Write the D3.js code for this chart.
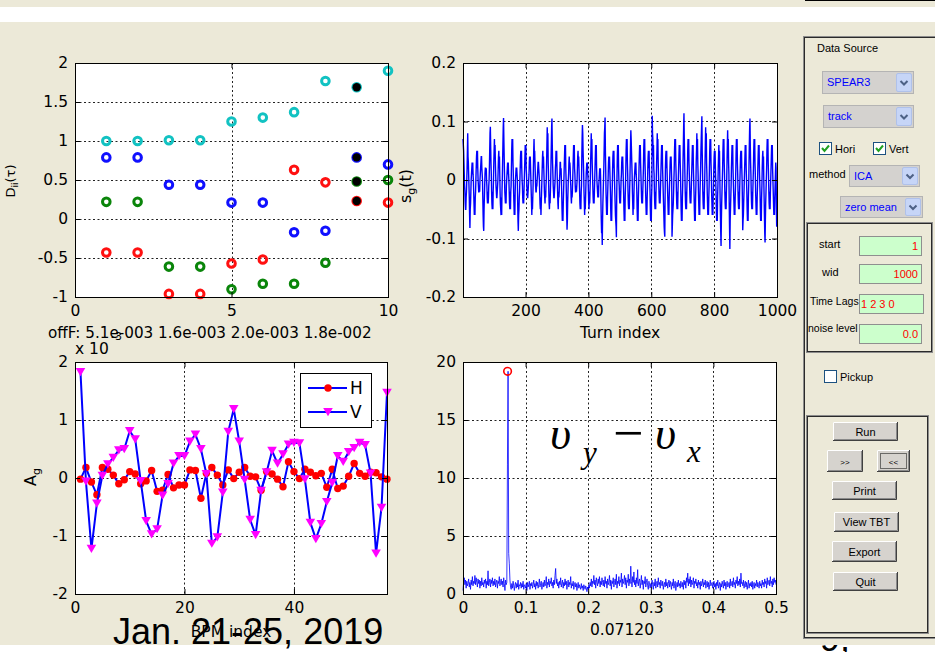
<!DOCTYPE html>
<html><head><meta charset="utf-8">
<script src="https://cdn.jsdelivr.net/npm/d3@7"></script>
<style>
body{margin:0;background:#fff;}
svg{display:block;}
</style></head><body>
<svg id="fig" width="935" height="652"></svg>
<script>
// ---------------- data ----------------
// Top left: diagonal elements D_ii(tau) of the time-lagged covariance, per lag column
const lagIndex   = [1,2,3,4,5,6,7,8,9,10];
const diagCyan   = [1.00,1.00,1.01,1.01,1.25,1.30,1.37,1.77,1.69,1.90];
const diagBlue   = [0.79,0.79,0.44,0.44,0.21,0.21,-0.17,-0.15,0.79,0.70];
const diagGreen  = [0.22,0.22,-0.61,-0.61,-0.90,-0.83,-0.83,-0.56,0.48,0.50];
const diagRed    = [-0.43,-0.43,-0.96,-0.96,-0.57,-0.52,0.63,0.47,0.23,0.21];
const selectedLag = 9;
const offFText = "offF: 5.1e-003 1.6e-003 2.0e-003 1.8e-002";

// Top right: temporal source signal s_g(t), turns 1..1000 (28 turns per row)
const sourceSignal = [
.07,.06,.05,.03,.01,-.01,-.02,-.04,-.05,-.05,-.03,-.02,.00,.02,.05,.08,.04,.03,.01,-.01,-.03,-.06,-.082,-.05,-.04,-.02,.00,.01,
.02,.03,.01,.03,.01,.00,-.02,-.04,-.06,-.03,-.06,-.03,-.02,.00,.02,.04,.05,.02,.05,.02,.00,-.01,-.02,-.02,-.01,-.02,.00,.01,
.02,.03,.04,.04,.02,.01,.00,-.03,-.06,-.08,-.087,-.05,-.03,-.01,.01,.02,.02,.01,.02,.00,-.01,-.03,-.04,-.02,-.04,-.03,-.01,.00,
.02,.05,.08,.091,.06,.03,.01,-.02,-.04,-.05,-.02,-.05,-.02,.00,.03,.05,.07,.04,.06,.03,.01,-.01,-.02,-.03,-.03,-.02,-.01,.00,
.02,.04,.05,.02,.04,.01,-.02,-.04,-.05,-.06,-.03,-.06,-.02,.00,.03,.06,.09,.106,.07,.04,.01,-.02,-.03,-.04,-.02,-.04,-.01,.00,
.01,.02,.03,.01,.03,.01,.00,-.02,-.04,-.05,-.02,-.05,-.02,-.01,.02,.05,.07,.04,.07,.03,.01,-.02,-.04,-.06,-.03,-.06,-.02,.00,
.01,.02,.02,.02,.01,.00,-.04,-.07,-.087,-.06,-.05,-.03,-.02,.00,.02,.04,.05,.02,.05,.02,.00,-.01,-.03,-.04,-.02,-.04,-.02,.00,
.02,.04,.06,.03,.06,.02,.01,-.01,-.02,-.03,-.03,-.02,-.01,.00,.01,.03,.04,.02,.04,.02,.00,-.02,-.04,-.06,-.03,-.05,-.03,-.01,
.02,.05,.07,.04,.05,.03,.01,-.01,-.02,-.02,-.01,-.01,.00,.01,.02,.03,.03,.02,.01,.00,-.02,-.04,-.05,-.03,-.06,-.04,-.02,.00,
.02,.04,.05,.02,.04,.02,.00,-.02,-.03,-.04,-.02,-.03,-.01,.00,.03,.06,.09,.05,.08,.03,.01,-.02,-.04,-.05,-.03,-.04,-.02,.00,
.03,.06,.09,.105,.06,.03,.01,-.01,-.02,-.03,-.03,-.02,-.01,.00,.02,.03,.05,.03,.05,.02,.00,-.02,-.04,-.05,-.02,-.03,-.02,.00,
.01,.03,.03,.01,.02,.00,-.02,-.05,-.07,-.04,-.07,-.04,-.02,.00,.02,.04,.06,.03,.06,.02,.00,-.03,-.06,-.085,-.07,-.04,-.02,.00,
.01,.03,.04,.02,.03,.02,.00,-.01,-.03,-.04,-.02,-.03,-.02,.00,.02,.04,.06,.03,.06,.02,.01,-.01,-.02,-.02,-.01,-.02,-.01,.00,
.02,.04,.05,.03,.04,.02,.00,-.02,-.04,-.05,-.03,-.05,-.02,-.01,.04,.07,.094,.08,.05,.03,.01,-.02,-.04,-.06,-.03,-.05,-.03,-.01,
.01,.02,.03,.01,.03,.01,.00,-.02,-.04,-.05,-.02,-.04,-.02,.00,.03,.05,.08,.04,.07,.03,.01,-.01,-.03,-.04,-.02,-.04,-.02,.00,
.02,.04,.06,.03,.06,.02,.00,-.01,-.02,-.03,-.01,-.03,-.01,.00,.01,.02,.01,.02,.00,-.04,-.07,-.091,-.08,-.111,-.07,-.04,-.02,.00,
.02,.05,.08,.09,.107,.05,.02,-.02,-.04,-.06,-.03,-.06,-.03,-.01,.01,.03,.04,.02,.04,.02,.00,-.02,-.05,-.07,-.04,-.07,-.03,-.01,
.02,.04,.05,.02,.05,.02,.00,-.02,-.04,-.06,-.07,-.08,-.098,-.03,.01,.04,.06,.03,.06,.02,.00,-.01,-.03,-.04,-.02,-.04,-.02,.00,
.01,.03,.04,.02,.04,.02,.00,-.02,-.05,-.07,-.04,-.07,-.03,-.01,.02,.05,.07,.04,.07,.03,.01,-.02,-.04,-.05,-.03,-.05,-.02,.00,
.03,.06,.085,.07,.05,.03,.01,-.02,-.04,-.06,-.03,-.05,-.02,.00,.01,.02,.03,.01,.03,.01,.00,-.02,-.05,-.07,-.04,-.07,-.03,-.01,
.02,.04,.06,.03,.06,.03,.01,-.01,-.03,-.04,-.02,-.04,-.02,.00,.02,.05,.07,.04,.07,.03,.01,-.02,-.04,-.06,-.03,-.06,-.03,-.01,
.02,.04,.05,.02,.05,.02,.00,-.02,-.05,-.07,-.04,-.07,-.03,-.01,.11,.08,.07,.04,.06,.02,.01,-.02,-.04,-.05,-.02,-.05,-.02,.00,
.03,.05,.08,.04,.07,.03,.01,-.01,-.03,-.04,-.02,-.04,-.02,.00,.02,.04,.06,.03,.06,.02,.00,-.02,-.04,-.06,-.08,-.09,-.097,-.03,
.02,.04,.05,.02,.05,.02,.00,-.02,-.04,-.06,-.03,-.06,-.03,-.01,.01,.03,.04,.02,.04,.02,.00,-.097,-.08,-.06,-.05,-.04,-.02,.00,
.02,.05,.07,.04,.07,.03,.01,-.02,-.04,-.05,-.02,-.05,-.02,.00,.02,.04,.06,.03,.06,.03,.01,-.02,-.05,-.07,-.04,-.07,-.03,-.01,
.03,.06,.09,.114,.07,.04,.01,-.02,-.04,-.05,-.02,-.05,-.02,.00,.02,.05,.07,.04,.07,.03,.01,-.01,-.03,-.04,-.02,-.04,-.02,.00,
.02,.04,.06,.03,.06,.02,.00,-.02,-.05,-.07,-.04,-.07,-.03,-.01,.03,.05,.08,.04,.07,.03,.01,-.02,-.04,-.06,-.03,-.06,-.02,.00,
.02,.05,.07,.09,.109,.05,.02,-.02,-.04,-.05,-.02,-.05,-.02,.00,.03,.06,.09,.05,.08,.03,.01,-.02,-.04,-.06,-.03,-.06,-.03,-.01,
.02,.05,.07,.04,.07,.03,.01,-.02,-.04,-.06,-.03,-.06,-.03,-.01,.02,.04,.05,.02,.05,.02,.00,-.02,-.05,-.07,-.04,-.07,-.03,-.01,
.02,.04,.06,.03,.05,.01,-.03,-.06,-.09,-.113,-.07,-.04,-.02,.00,.02,.05,.07,.04,.07,.03,.01,-.02,-.04,-.05,-.02,-.05,-.02,.00,
.03,.06,.085,.05,.07,.03,.01,-.04,-.08,-.118,-.07,-.05,-.03,-.01,.02,.04,.06,.03,.06,.02,.00,-.02,-.04,-.06,-.03,-.06,-.03,-.01,
.02,.05,.07,.04,.07,.03,.01,-.02,-.04,-.05,-.02,-.05,-.02,.00,.02,.04,.05,.02,.05,.02,.00,-.04,-.086,-.07,-.06,-.04,-.02,.00,
.02,.04,.06,.03,.06,.02,.00,-.02,-.05,-.07,-.04,-.07,-.03,-.01,.03,.06,.09,.105,.06,.03,.01,-.02,-.04,-.05,-.02,-.05,-.02,.00,
.02,.05,.07,.04,.07,.03,.01,-.02,-.04,-.06,-.03,-.06,-.03,-.01,.02,.04,.06,.03,.06,.02,.00,-.02,-.05,-.07,-.04,-.07,-.03,-.01,
.02,.04,.05,.02,.04,.00,-.03,-.06,-.09,-.107,-.07,-.04,-.02,.00,.02,.05,.07,.04,.07,.03,.01,-.02,-.04,-.05,-.02,-.05,-.02,.00,
.02,.04,.06,.03,.06,.02,.00,-.02,-.04,-.06,-.03,-.06,-.03,-.01,.01,.03,.02,-.04,-.08,-.05
];

// Bottom left: spatial pattern A_g at each BPM (units of 1e-3)
const bpmH = [-0.02,0.18,-0.07,-0.29,0.18,0.15,0.05,-0.10,-0.03,0.11,0.07,-0.10,-0.05,0.13,-0.23,-0.21,0.06,-0.17,-0.12,-0.12,
  0.14,0.13,-0.35,0.08,0.18,0.05,-0.12,0.14,-0.01,0.10,0.18,0.03,0.02,-0.21,0.11,0.07,-0.02,-0.15,0.28,0.11,
  -0.01,0.15,0.10,0.04,0.08,-0.16,0.15,-0.18,-0.14,0.03,0.25,0.08,0.03,0.10,0.09,0.02,-0.02];
const bpmV = [1.83,-0.06,-1.22,-0.44,0.04,0.24,0.35,0.48,0.50,0.81,0.67,-0.05,-0.74,-0.97,-0.88,-0.30,-0.10,0.25,0.38,0.38,
  0.63,0.75,0.50,0.07,-1.13,-1.02,-0.25,0.80,1.19,0.63,-0.03,-0.72,-0.98,-0.22,0.10,0.47,0.25,0.41,0.58,0.61,
  0.60,-0.02,-0.77,-1.05,-0.79,-0.41,-0.08,0.38,0.28,0.45,0.52,0.61,0.57,0.08,-1.30,-0.51,1.47];

// Bottom right: amplitude spectrum of s_g(t), bins 0, 0.001, ... 0.5
const spectrumAmp = [
0.3,1.0,1.4,0.8,1.2,0.5,1.1,0.7,0.9,1.3,0.6,1.0,0.4,1.2,0.8,1.5,0.7,1.1,0.9,1.6,0.8,1.4,1.0,0.6,1.3,
0.9,1.2,0.5,1.1,0.7,1.4,0.8,1.0,0.6,1.2,0.9,1.3,0.5,1.1,0.8,2.0,0.7,1.0,1.3,0.6,1.2,0.9,1.4,0.7,1.1,
0.8,1.3,0.6,1.0,1.2,0.5,1.1,0.9,1.5,0.7,1.0,1.3,0.8,1.1,0.6,1.4,0.9,0.3,1.2,0.8,1.0,11.2,19.2,3.5,2.6,
1.2,0.6,0.4,0.9,0.5,1.1,0.7,0.3,0.8,1.0,0.5,0.9,0.6,1.2,0.4,0.8,0.7,1.0,0.5,0.9,0.6,1.1,0.4,0.8,0.7,
0.5,0.9,0.3,1.0,0.6,0.8,1.1,0.4,0.9,0.7,1.0,0.5,0.8,1.2,0.6,0.9,0.4,1.1,0.7,1.0,0.5,0.8,1.3,0.6,0.9,
1.1,0.4,0.8,1.0,0.6,1.2,0.7,0.9,1.5,0.5,1.0,0.8,1.3,0.6,1.1,0.9,1.4,0.7,1.0,0.5,1.2,0.8,1.6,2.2,0.9,
1.3,0.7,1.0,0.5,1.1,0.8,1.4,0.6,0.9,1.2,0.5,1.0,0.7,1.3,0.8,1.1,0.4,0.9,1.2,0.6,1.0,0.8,1.5,0.5,0.9,
0.7,1.1,0.4,0.8,1.0,0.6,0.9,0.3,0.7,1.0,0.5,0.8,0.6,0.4,0.9,0.5,0.7,0.3,0.8,0.6,0.4,0.7,0.5,0.2,0.6,
0.4,0.8,0.5,1.0,0.7,1.3,0.6,1.1,0.9,1.6,0.8,1.2,0.5,1.4,1.0,0.7,1.3,0.9,1.5,0.6,1.1,0.8,1.4,1.0,0.7,
1.2,0.6,1.5,0.9,1.1,0.5,1.3,0.8,1.0,1.6,0.7,1.2,0.4,1.1,0.9,1.4,0.6,1.0,1.3,0.8,1.7,0.5,1.1,0.9,1.5,
0.7,1.2,1.0,1.8,0.6,1.3,0.9,1.1,1.6,0.8,1.4,0.5,1.2,1.0,1.7,0.7,1.3,0.9,2.4,1.1,0.6,1.5,1.0,1.9,0.8,
1.2,0.6,1.4,0.9,2.1,0.7,1.1,1.3,0.5,1.0,1.6,0.8,1.2,0.4,1.1,0.9,1.5,0.6,1.0,1.3,0.7,0.4,1.1,0.8,0.5,
0.9,0.6,1.2,0.8,0.4,1.0,0.7,1.3,0.5,0.9,1.1,0.6,1.4,0.8,1.0,0.5,1.2,0.9,0.7,1.1,0.4,0.8,1.0,0.6,1.3,
0.7,1.0,0.5,0.9,1.2,0.6,1.1,0.8,0.4,1.0,0.7,1.3,0.5,0.9,1.1,0.3,0.8,1.0,0.6,1.2,0.7,0.9,0.5,1.1,0.8,
0.6,1.0,0.4,1.2,0.8,1.1,0.5,1.4,1.0,1.8,0.7,1.3,0.9,1.5,0.6,1.2,0.8,1.0,1.4,0.5,1.1,0.9,1.3,0.7,1.0,
0.5,1.2,0.8,1.0,0.4,1.1,0.7,0.9,1.3,0.6,1.0,0.8,1.2,0.5,0.9,1.1,0.6,1.0,0.4,0.8,1.2,0.7,0.9,1.0,0.5,
0.8,1.1,0.6,0.9,0.4,1.0,0.7,1.2,0.5,0.8,1.0,0.3,0.9,0.6,1.1,0.8,0.5,1.2,0.7,1.0,0.4,0.9,1.1,0.6,0.8,
1.0,0.5,1.3,0.7,0.9,1.1,0.6,1.4,0.8,1.0,0.5,1.2,0.9,1.5,0.7,1.1,0.8,1.3,0.6,1.8,0.9,1.0,0.7,1.2,0.5,
0.9,1.1,0.6,1.0,0.4,0.8,1.2,0.5,0.9,0.7,1.0,0.6,1.1,0.4,0.8,1.0,0.5,0.9,0.7,1.2,0.6,1.0,0.8,0.5,1.1,
0.7,0.9,0.5,1.2,0.8,1.0,0.6,1.3,0.9,1.1,0.5,1.4,0.8,1.0,1.2,0.7,1.5,0.9,1.1,0.6,1.3,0.8,1.4,1.0,1.2,
0.8
];
const tunePeak = {freq: 0.0712, amp: 19.2, label: "0.07120"};

// tick values
const tlXTicks = [0,5,10],  tlYTicks = [-1,-0.5,0,0.5,1,1.5,2];
const trXTicks = [200,400,600,800,1000], trYTicks = [-0.2,-0.1,0,0.1,0.2];
const blXTicks = [0,20,40], blYTicks = [-2,-1,0,1,2];
const brXTicks = [0,0.1,0.2,0.3,0.4,0.5], brYTicks = [0,5,10,15,20];

// ---------------- drawing ----------------
const BG = "#ECE9D8";
const FONT = '"DejaVu Sans", Verdana, sans-serif';
const UI = '"Liberation Sans", Arial, sans-serif';
const svg = d3.select("#fig");
const defs = svg.append("defs");

svg.append("rect").attr("width",935).attr("height",652).attr("fill","#fff");
// slide page number, mostly hidden by the GUI capture
svg.append("text").attr("x",820).attr("y",651).attr("font-family",UI).attr("font-size",36).text("9,");
svg.append("rect").attr("x",0).attr("y",0).attr("width",935).attr("height",7).attr("fill",BG);
svg.append("line").attr("x1",805).attr("x2",935).attr("y1",0.5).attr("y2",0.5).attr("stroke","#000");
svg.append("rect").attr("x",0).attr("y",22).attr("width",935).attr("height",623).attr("fill",BG);

function makeAxes(c){
  const x = d3.scaleLinear().domain(c.xd).range([c.l,c.r]);
  const y = d3.scaleLinear().domain(c.yd).range([c.b,c.t]);
  const g = svg.append("g");
  g.append("rect").attr("x",c.l).attr("y",c.t).attr("width",c.r-c.l).attr("height",c.b-c.t).attr("fill","#fff");
  const grid = g.append("g").attr("stroke","#222").attr("stroke-width",1).attr("stroke-dasharray","2,2.5");
  grid.selectAll(null).data(c.xt.filter(v=>v>c.xd[0]&&v<c.xd[1])).join("line")
    .attr("x1",d=>Math.round(x(d))+0.5).attr("x2",d=>Math.round(x(d))+0.5).attr("y1",c.t).attr("y2",c.b);
  grid.selectAll(null).data(c.yt.filter(v=>v>c.yd[0]&&v<c.yd[1])).join("line")
    .attr("y1",d=>Math.round(y(d))+0.5).attr("y2",d=>Math.round(y(d))+0.5).attr("x1",c.l).attr("x2",c.r);
  defs.append("clipPath").attr("id","clip-"+c.name).append("rect")
    .attr("x",c.l-6).attr("y",c.t-6).attr("width",c.r-c.l+12).attr("height",c.b-c.t+12);
  const plot = svg.append("g").attr("clip-path",`url(#clip-${c.name})`);
  return {x,y,plot,c};
}
function finishAxes(ax){
  const {x,y,c} = ax;
  const g = svg.append("g");
  const fmt = d => String(d);
  g.append("g").attr("transform",`translate(0,${c.b})`)
    .call(d3.axisBottom(x).tickValues(c.xt).tickSize(-5).tickSizeOuter(0).tickPadding(8).tickFormat(fmt));
  g.append("g").attr("transform",`translate(0,${c.t})`)
    .call(d3.axisTop(x).tickValues(c.xt).tickSize(-5).tickSizeOuter(0).tickFormat(""));
  g.append("g").attr("transform",`translate(${c.l},0)`)
    .call(d3.axisLeft(y).tickValues(c.yt).tickSize(-5).tickSizeOuter(0).tickPadding(7).tickFormat(fmt));
  g.append("g").attr("transform",`translate(${c.r},0)`)
    .call(d3.axisRight(y).tickValues(c.yt).tickSize(-5).tickSizeOuter(0).tickFormat(""));
  g.selectAll(".domain").remove();
  g.selectAll("text").attr("font-family",FONT).attr("font-size",15.5).attr("fill","#000");
  g.selectAll(".tick line").attr("stroke","#000");
  g.append("rect").attr("x",c.l+0.5).attr("y",c.t+0.5).attr("width",c.r-c.l).attr("height",c.b-c.t)
    .attr("fill","none").attr("stroke","#000");
}
function label(x,y,txt,opt={}){
  return svg.append("text").attr("x",x).attr("y",y).attr("font-family",opt.font||FONT)
    .attr("font-size",opt.size||15.5).attr("text-anchor",opt.anchor||"middle").attr("fill",opt.fill||"#000").text(txt);
}

// ---- top left: D_ii(tau)
const tl = makeAxes({name:"tl",l:75,r:388,t:63,b:297,xd:[0,10],yd:[-1,2],xt:tlXTicks,yt:tlYTicks});
const diagSeries = [
  {vals:diagCyan,color:"#12c2c2"},{vals:diagBlue,color:"#1010ff"},
  {vals:diagGreen,color:"#0a850a"},{vals:diagRed,color:"#ff1010"}];
diagSeries.forEach(s=>{
  tl.plot.selectAll(null).data(lagIndex.map((k,i)=>({k,v:s.vals[i]}))).join("circle")
    .attr("cx",d=>tl.x(d.k)).attr("cy",d=>tl.y(d.v)).attr("r",3.8)
    .attr("fill","none").attr("stroke",s.color).attr("stroke-width",3);
  const i = lagIndex.indexOf(selectedLag);
  tl.plot.append("circle").attr("cx",tl.x(selectedLag)).attr("cy",tl.y(s.vals[i])).attr("r",4.2)
    .attr("fill","#000");
});
finishAxes(tl);
svg.append("text").attr("transform","translate(15,181) rotate(-90)").attr("text-anchor","middle")
  .attr("font-family",FONT).attr("font-size",13)
  .call(t=>{t.append("tspan").text("D");t.append("tspan").attr("font-size",9).attr("dy",3).text("ii");
            t.append("tspan").attr("dy",-3).text("(τ)");});
label(48,338,offFText,{anchor:"start",size:15.2});

// ---- top right: s_g(t)
const tr = makeAxes({name:"tr",l:463,r:777,t:63,b:297,xd:[1,1000],yd:[-0.2,0.2],xt:trXTicks,yt:trYTicks});
tr.plot.append("path").datum(sourceSignal)
  .attr("d",d3.line().x((d,i)=>tr.x(i+1)).y(d=>tr.y(d)))
  .attr("fill","none").attr("stroke","#0000ff").attr("stroke-width",1.4);
finishAxes(tr);
label(620,338,"Turn index");
svg.append("text").attr("transform","translate(411,186) rotate(-90)").attr("text-anchor","middle")
  .attr("font-family",FONT).attr("font-size",16)
  .call(t=>{t.append("tspan").text("s");t.append("tspan").attr("font-size",11).attr("dy",4).text("g");
            t.append("tspan").attr("dy",-4).text("(t)");});

// ---- bottom left: A_g per BPM
const bl = makeAxes({name:"bl",l:75,r:387,t:362,b:594,xd:[0,57],yd:[-2,2],xt:blXTicks,yt:blYTicks});
const bpmLine = (arr)=>d3.line().x((d,i)=>bl.x(i+1)).y(d=>bl.y(d))(arr);
const triDown = "M-4.8,-3.9L4.8,-3.9L0,4.3Z";
bl.plot.append("path").attr("d",bpmLine(bpmH)).attr("fill","none").attr("stroke","#0000ff").attr("stroke-width",2);
bl.plot.selectAll(null).data(bpmH).join("circle").attr("cx",(d,i)=>bl.x(i+1)).attr("cy",d=>bl.y(d))
  .attr("r",3.7).attr("fill","#ff0000");
bl.plot.append("path").attr("d",bpmLine(bpmV)).attr("fill","none").attr("stroke","#0000ff").attr("stroke-width",2);
bl.plot.selectAll(null).data(bpmV).join("path").attr("d",triDown)
  .attr("transform",(d,i)=>`translate(${bl.x(i+1)},${bl.y(d)})`).attr("fill","#ff00ff");
finishAxes(bl);
// legend
const lg = svg.append("g");
lg.append("rect").attr("x",300.5).attr("y",373.5).attr("width",71).attr("height",54).attr("fill","#fff").attr("stroke","#000");
[{name:"H",y:388},{name:"V",y:412}].forEach(it=>{
  lg.append("line").attr("x1",308).attr("x2",347).attr("y1",it.y).attr("y2",it.y).attr("stroke","#0000ff").attr("stroke-width",2);
  if(it.name==="H") lg.append("circle").attr("cx",328).attr("cy",it.y).attr("r",3.7).attr("fill","#ff0000");
  else lg.append("path").attr("d",triDown).attr("transform",`translate(328,${it.y})`).attr("fill","#ff00ff");
  lg.append("text").attr("x",350).attr("y",it.y+6).attr("font-family",FONT).attr("font-size",17).text(it.name);
});
svg.append("text").attr("transform","translate(36,477) rotate(-90)").attr("text-anchor","middle")
  .attr("font-family",FONT).attr("font-size",16)
  .call(t=>{t.append("tspan").text("A");t.append("tspan").attr("font-size",11).attr("dy",4).text("g");});
label(75,354,"x 10",{anchor:"start"});
label(111,340,"-3",{anchor:"start",size:11});
label(231,637,"BPM index");

// ---- bottom right: spectrum
const br = makeAxes({name:"br",l:463,r:776,t:362,b:594,xd:[0,0.5],yd:[0,20],xt:brXTicks,yt:brYTicks});
br.plot.append("path").datum(spectrumAmp)
  .attr("d",d3.line().x((d,i)=>br.x(i/1000)).y(d=>br.y(d)))
  .attr("fill","none").attr("stroke","#0000ff").attr("stroke-width",0.8);
br.plot.append("circle").attr("cx",br.x(tunePeak.freq)).attr("cy",br.y(tunePeak.amp)).attr("r",3.8)
  .attr("fill","none").attr("stroke","#ff0000").attr("stroke-width",1.6);
finishAxes(br);
label(622,635,tunePeak.label);
svg.append("text").attr("font-family",'"Liberation Serif","Times New Roman",serif').attr("font-style","italic")
  .call(t=>{
    t.append("tspan").attr("x",550).attr("y",449).attr("font-size",46).text("υ");
    t.append("tspan").attr("x",583).attr("y",463).attr("font-size",31).text("y");
    t.append("tspan").attr("x",613).attr("y",451).attr("font-size",54).attr("font-style","normal").text("−");
    t.append("tspan").attr("x",655).attr("y",449).attr("font-size",46).text("υ");
    t.append("tspan").attr("x",687).attr("y",462).attr("font-size",31).text("x");
  });

// ---------------- control panel ----------------
function etched(x,y,w,h){
  svg.append("rect").attr("x",x+0.5).attr("y",y+0.5).attr("width",w).attr("height",h).attr("fill","none").attr("stroke","#8c8c8c");
  svg.append("rect").attr("x",x+1.5).attr("y",y+1.5).attr("width",w-2).attr("height",h-2).attr("fill","none").attr("stroke","#2a2a2a");
}
function uiText(x,y,s,opt={}){
  return svg.append("text").attr("x",x).attr("y",y).attr("font-family",UI).attr("font-size",opt.size||11)
    .attr("text-anchor",opt.anchor||"start").attr("fill",opt.fill||"#000").text(s);
}
function button(x,y,w,h,s,opt={}){
  svg.append("rect").attr("x",x).attr("y",y).attr("width",w).attr("height",h).attr("fill","#D6D3CE");
  svg.append("path").attr("d",`M${x+0.5},${y+h}V${y+0.5}H${x+w}`).attr("stroke","#fff").attr("fill","none");
  svg.append("path").attr("d",`M${x},${y+h-0.5}H${x+w-0.5}V${y}`).attr("stroke","#404040").attr("fill","none");
  svg.append("path").attr("d",`M${x+1},${y+h-1.5}H${x+w-1.5}V${y+1}`).attr("stroke","#8a8a8a").attr("fill","none");
  if(opt.focus) svg.append("rect").attr("x",x+3.5).attr("y",y+3.5).attr("width",w-7).attr("height",h-7)
    .attr("fill","none").attr("stroke","#000").attr("stroke-dasharray","1,1");
  uiText(x+w/2,y+h/2+4,s,{anchor:"middle",size:opt.size||11});
}
function popup(x,y,w,h,s){
  svg.append("rect").attr("x",x+0.5).attr("y",y+0.5).attr("width",w).attr("height",h).attr("fill","#D4D2CF").attr("stroke","#b4b4b4");
  svg.append("rect").attr("x",x+w-16.5).attr("y",y+2.5).attr("width",15).attr("height",h-4).attr("fill","#C6D5F7").attr("stroke","#AFC1EA").attr("rx",1.5);
  const cx = x+w-9, cy = y+h/2+1;
  svg.append("path").attr("d",`M${cx-3.5},${cy-2}L${cx},${cy+1.5}L${cx+3.5},${cy-2}`).attr("fill","none").attr("stroke","#4D6185").attr("stroke-width",2);
  uiText(x+5,y+h/2+4,s,{fill:"#0000ff"});
}
function checkbox(x,y,checked,s){
  svg.append("rect").attr("x",x+0.5).attr("y",y+0.5).attr("width",12).attr("height",12).attr("fill","#fff").attr("stroke","#1C5180");
  if(checked) svg.append("path").attr("d",`M${x+3},${y+6}L${x+5.5},${y+9}L${x+10},${y+3.5}`).attr("fill","none").attr("stroke","#21A121").attr("stroke-width",2);
  uiText(x+16,y+10.5,s);
}
function edit(x,y,w,h,s,align){
  svg.append("rect").attr("x",x+0.5).attr("y",y+0.5).attr("width",w).attr("height",h).attr("fill","#CCFFCC").attr("stroke","#8f8f8f");
  if(align==="right") uiText(x+w-3,y+h/2+4,s,{anchor:"end",fill:"#ff0000"});
  else uiText(x+2,y+h/2+4,s,{fill:"#ff0000"});
}

etched(803,36,140,602);
uiText(817,52,"Data Source");
popup(822,71,91,22,"SPEAR3");
popup(823,105,90,22,"track");
checkbox(819,142,true,"Hori");
checkbox(873,142,true,"Vert");
uiText(809,178,"method");
popup(849,165,70,21,"ICA");
popup(840,196,82,21,"zero mean");
etched(806,222,126,130);
uiText(819,248,"start"); edit(859,236,62,19,"1","right");
uiText(822,276,"wid"); edit(859,264,62,19,"1000","right");
uiText(810,305,"Time Lags",{size:10.5}); edit(859,294,64,19,"1 2 3 0","left");
uiText(808,332,"noise level",{size:10.5}); edit(859,324,62,19,"0.0","right");
checkbox(824,370,false,"Pickup");
etched(806,415,122,218);
button(833,422,65,19,"Run");
button(827,450,36,22,">>",{size:8});
button(877,450,33,22,"<<",{size:8,focus:true});
button(832,481,65,19,"Print");
button(834,512,65,20,"View TBT");
button(832,541,65,21,"Export");
button(833,572,65,19,"Quit");

// conference date printed over the capture
svg.append("text").attr("x",113).attr("y",644).attr("font-family",UI).attr("font-size",36).text("Jan. 21-25, 2019");
</script>
</body></html>
